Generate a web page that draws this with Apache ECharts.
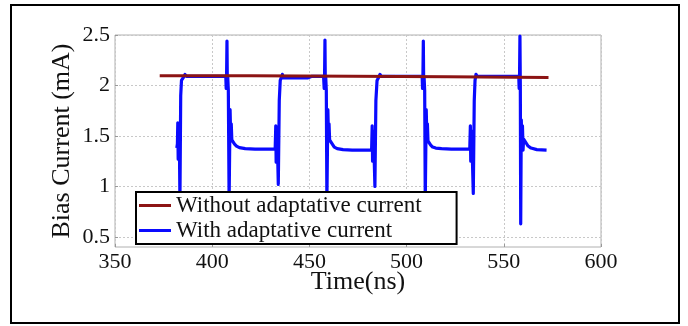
<!DOCTYPE html>
<html>
<head>
<meta charset="utf-8">
<script src="https://cdn.jsdelivr.net/npm/echarts@6/dist/echarts.min.js"></script>
<style>
html,body{margin:0;padding:0;background:#fff;}
#chart{width:688px;height:326px;}
</style>
</head>
<body>
<div id="chart"></div>
<script>
const xTicks = [350, 400, 450, 500, 550, 600];
const yTicks = [0.5, 1, 1.5, 2, 2.5];
const seriesNames = ['Without adaptative current', 'With adaptative current'];

const redTime    = [373, 420, 421, 472, 473, 521, 522, 573];
const redCurrent = [2.097, 2.096, 2.092, 2.091, 2.087, 2.086, 2.082, 2.080];

const blueTime = [
  381.8, 382.1, 382.3, 382.5, 382.7, 382.9, 383.1, 383.4, 383.8, 384.2, 385.2, 386.0, 386.8, 407.0,
  407.2, 407.4, 407.6, 407.8, 408.0, 408.3, 408.7, 409.2, 409.5, 409.8, 410.1, 410.8, 411.5, 412.5, 414.0, 417.0, 422.0, 432.4,
  432.7, 432.9, 433.1, 433.3, 433.5, 434.0, 434.5, 435.0, 435.6, 436.1, 436.6, 449.0, 451.0, 457.3,
  457.6, 457.8, 458.0, 458.2, 458.4, 458.7, 459.0, 459.5, 459.8, 460.1, 460.4, 461.1, 461.8, 462.8, 464.3, 467.3, 472.0, 482.0,
  482.3, 482.5, 482.7, 482.9, 483.1, 483.7, 484.2, 484.8, 485.6, 486.3, 486.9, 508.0,
  508.2, 508.4, 508.6, 508.8, 509.0, 509.3, 509.6, 510.1, 510.4, 510.7, 511.0, 511.7, 512.4, 513.4, 515.0, 518.0, 523.0, 532.5,
  532.8, 533.0, 533.2, 533.4, 533.6, 534.3, 534.8, 535.2, 535.7, 536.3, 557.7,
  557.9, 558.1, 558.3, 558.5, 558.7, 559.0, 559.3, 559.6, 559.9, 560.2, 560.8, 561.5, 562.5, 564.0, 567.0, 572.0
];
const blueCurrent = [
  1.38, 1.42, 1.63, 1.27, 1.58, 1.30, 1.48, 0.85, 1.90, 2.05, 2.08, 2.11, 2.09, 2.09,
  1.97, 2.10, 2.44, 2.00, 2.08, 1.95, 0.85, 1.76, 1.50, 1.62, 1.46, 1.45, 1.42, 1.40, 1.385, 1.375, 1.37, 1.37,
  1.60, 1.24, 1.55, 1.28, 1.45, 1.02, 1.85, 2.05, 2.08, 2.11, 2.075, 2.075, 2.09, 2.09,
  1.97, 2.10, 2.45, 2.00, 2.08, 1.95, 0.85, 1.76, 1.50, 1.62, 1.46, 1.45, 1.42, 1.39, 1.375, 1.365, 1.36, 1.36,
  1.60, 1.25, 1.55, 1.28, 1.45, 1.00, 1.85, 2.05, 2.08, 2.11, 2.09, 2.09,
  1.97, 2.10, 2.44, 2.00, 2.08, 1.95, 0.85, 1.76, 1.50, 1.62, 1.45, 1.44, 1.41, 1.39, 1.38, 1.375, 1.37, 1.37,
  1.60, 1.25, 1.55, 1.28, 1.45, 0.93, 1.85, 2.05, 2.11, 2.09, 2.09,
  1.97, 2.10, 2.49, 2.00, 0.63, 1.66, 1.38, 1.60, 1.36, 1.47, 1.46, 1.43, 1.40, 1.38, 1.365, 1.36
];

const zip = (a, b) => a.map((v, i) => [v, b[i]]);
const serif = '"Liberation Serif", "Times New Roman", serif';

const chart = echarts.init(document.getElementById('chart'), null, {renderer: 'canvas'});
chart.setOption({
  animation: false,
  backgroundColor: '#ffffff',
  graphic: [{
    type: 'rect',
    shape: {x: 11, y: 5, width: 668, height: 318},
    style: {fill: 'none', stroke: '#000', lineWidth: 2},
    silent: true,
    z: 0
  }],
  grid: {
    left: 115, right: 87, top: 35, bottom: 79,
    show: true, borderColor: '#b0b0b0', borderWidth: 1, backgroundColor: 'transparent'
  },
  legend: {
    data: seriesNames,
    orient: 'vertical',
    left: 136, top: 192,
    padding: [2, 35, 2, 3],
    itemGap: 2,
    itemWidth: 32, itemHeight: 3,
    icon: 'rect',
    itemTextGap: 8,
    backgroundColor: '#fff',
    borderColor: '#000', borderWidth: 2,
    textStyle: {fontFamily: serif, fontSize: 23, color: '#111', lineHeight: 22}
  },
  xAxis: {
    type: 'value',
    min: xTicks[0], max: xTicks[xTicks.length - 1], interval: 50,
    name: 'Time(ns)', nameLocation: 'middle', nameGap: 22, nameMoveOverlap: false,
    nameTextStyle: {fontFamily: serif, fontSize: 26, color: '#111'},
    axisLine: {show: false},
    axisTick: {show: true, inside: true, length: 3, lineStyle: {color: '#999'}},
    axisLabel: {fontFamily: serif, fontSize: 22, color: '#111', margin: 4},
    splitLine: {show: true, lineStyle: {color: '#c8c8c8', type: [2, 2], width: 1}}
  },
  yAxis: {
    type: 'value',
    min: 0.4, max: 2.5,
    name: 'Bias Current (mA)', nameLocation: 'middle', nameGap: 40, nameMoveOverlap: false,
    nameTextStyle: {fontFamily: serif, fontSize: 26, color: '#111'},
    axisLine: {show: false},
    axisTick: {show: true, inside: true, length: 3, lineStyle: {color: '#999'}, customValues: yTicks},
    axisLabel: {fontFamily: serif, fontSize: 22, color: '#111', margin: 5, customValues: yTicks,
      formatter: v => String(v)},
    splitLine: {show: true, lineStyle: {color: '#c8c8c8', type: [2, 2], width: 1}}
  },
  series: [
    {
      name: seriesNames[1], type: 'line', showSymbol: false, symbol: 'none',
      data: zip(blueTime, blueCurrent),
      lineStyle: {color: '#0a0aff', width: 3.2, join: 'round'},
      itemStyle: {color: '#0a0aff'},
      z: 2
    },
    {
      name: seriesNames[0], type: 'line', showSymbol: false, symbol: 'none',
      data: zip(redTime, redCurrent),
      lineStyle: {color: '#8c1414', width: 3},
      itemStyle: {color: '#8c1414'},
      z: 3
    }
  ]
});
</script>
</body>
</html>
